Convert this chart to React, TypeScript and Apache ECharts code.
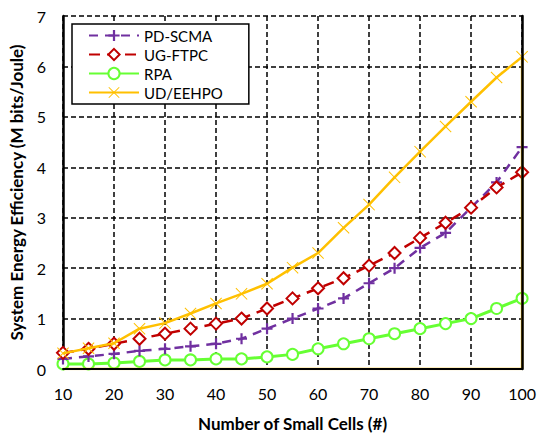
import React, { useEffect, useRef } from "react";
import * as echarts from "echarts";

const cells = [10, 15, 20, 25, 30, 35, 40, 45, 50, 55, 60, 65, 70, 75, 80, 85, 90, 95, 100];
const pdScma = [0.2, 0.25, 0.3, 0.36, 0.4, 0.45, 0.5, 0.6, 0.8, 1.0, 1.2, 1.4, 1.7, 2.0, 2.4, 2.7, 3.2, 3.7, 4.4];
const ugFtpc = [0.32, 0.4, 0.5, 0.6, 0.7, 0.8, 0.9, 1.0, 1.2, 1.4, 1.6, 1.8, 2.05, 2.3, 2.6, 2.9, 3.2, 3.6, 3.9];
const rpa = [0.1, 0.1, 0.12, 0.15, 0.18, 0.18, 0.2, 0.2, 0.24, 0.29, 0.4, 0.5, 0.6, 0.7, 0.8, 0.9, 1.0, 1.2, 1.4];
const udEehpo = [0.31, 0.41, 0.51, 0.8, 0.91, 1.1, 1.3, 1.49, 1.69, 2.01, 2.3, 2.8, 3.26, 3.8, 4.31, 4.81, 5.3, 5.78, 6.19];
// trailing points of the UD/EEHPO trace that drop back to zero along the axis
const udTailX = [100, 10];
const udTailY = [0, 0];
const xTicks = [10, 20, 30, 40, 50, 60, 70, 80, 90, 100];
const yTicks = [0, 1, 2, 3, 4, 5, 6, 7];

const FONT = "Lato, 'Open Sans', sans-serif";
const PLUS = "path://M4,0 H6 V4 H10 V6 H6 V10 H4 V6 H0 V4 H4 Z";
const CROSS =
  "path://M0,0.6 L0.6,0 L5,4.4 L9.4,0 L10,0.6 L5.6,5 L10,9.4 L9.4,10 L5,5.6 L0.6,10 L0,9.4 L4.4,5 Z";

export default function App() {
  const ref = useRef<HTMLDivElement>(null);
  useEffect(() => {
    document.body.style.margin = "0";
    if (!ref.current) return;
    const chart = echarts.init(ref.current, undefined, { renderer: "svg" });
    const pairs = (ys: number[]) => cells.map((x, i) => [x, ys[i]]);
    const udData: any[] = pairs(udEehpo);
    udTailX.forEach((x, i) => udData.push({ value: [x, udTailY[i]], symbol: "none" }));
    chart.setOption({
      animation: false,
      textStyle: { fontFamily: FONT },
      grid: { left: 63, right: 15, top: 16, bottom: 62 },
      legend: {
        left: 72,
        top: 24,
        orient: "vertical",
        backgroundColor: "#fff",
        borderColor: "#000",
        borderWidth: 1.5,
        borderRadius: 0,
        padding: [4, 26, 4, 16],
        itemGap: 4,
        itemWidth: 50,
        itemHeight: 14,
        textStyle: { fontFamily: FONT, fontSize: 15, color: "#000" },
        data: ["PD-SCMA", "UG-FTPC", "RPA", "UD/EEHPO"],
        z: 20,
      },
      xAxis: [
        {
          type: "value",
          min: 10,
          max: 100,
          interval: 10,
          name: "Number of Small Cells (#)",
          nameLocation: "middle",
          nameGap: 46,
          nameTextStyle: { fontFamily: FONT, fontSize: 17, fontWeight: "bold", color: "#000" },
          axisLine: { show: true, lineStyle: { color: "#000", width: 1 } },
          axisTick: { show: false },
          axisLabel: {
            fontSize: 16,
            color: "#000",
            margin: 16,
            customValues: xTicks,
          },
          splitLine: { show: true, lineStyle: { color: "#000", type: [5, 3], width: 1.5 } },
        },
        {
          type: "value",
          position: "top",
          min: 10,
          max: 100,
          interval: 10,
          z: 10,
          axisLine: { show: true, lineStyle: { color: "#000", width: 2 } },
          axisTick: { show: false },
          axisLabel: { show: false },
          splitLine: { show: false },
        },
      ],
      yAxis: [
        {
          type: "value",
          min: 0,
          max: 7,
          interval: 1,
          name: "System Energy Efficiency (M bits/Joule)",
          nameLocation: "middle",
          nameGap: 38,
          nameTextStyle: { fontFamily: FONT, fontSize: 17, fontWeight: "bold", color: "#000" },
          axisLine: { show: true, lineStyle: { color: "#000", width: 2.5 } },
          axisTick: { show: false },
          axisLabel: { fontSize: 16, color: "#000", margin: 17, customValues: yTicks },
          splitLine: { show: true, lineStyle: { color: "#000", type: [5, 3], width: 1.5 } },
        },
        {
          type: "value",
          position: "right",
          min: 0,
          max: 7,
          interval: 1,
          z: 10,
          axisLine: { show: true, lineStyle: { color: "#000", width: 2.5 } },
          axisTick: { show: false },
          axisLabel: { show: false },
          splitLine: { show: false },
        },
      ],
      series: [
        {
          name: "PD-SCMA",
          type: "line",
          data: pairs(pdScma),
          symbol: PLUS,
          symbolSize: 11,
          color: "#7030A0",
          lineStyle: { color: "#7030A0", width: 2.5, type: [9, 7] },
          itemStyle: { color: "#7030A0" },
          z: 3,
        },
        {
          name: "UG-FTPC",
          type: "line",
          data: pairs(ugFtpc),
          symbol: "emptyDiamond",
          symbolSize: 12,
          color: "#C00000",
          lineStyle: { color: "#C00000", width: 2.5, type: [11, 7] },
          itemStyle: { color: "#C00000", borderWidth: 2 },
          z: 4,
        },
        {
          name: "RPA",
          type: "line",
          data: pairs(rpa),
          symbol: "emptyCircle",
          symbolSize: 11,
          color: "#66FF33",
          lineStyle: { color: "#66FF33", width: 3 },
          itemStyle: { color: "#66FF33", borderWidth: 2.5 },
          z: 2,
        },
        {
          name: "UD/EEHPO",
          type: "line",
          data: udData,
          symbol: CROSS,
          symbolSize: 12,
          color: "#FFC000",
          lineStyle: { color: "#FFC000", width: 2.5 },
          itemStyle: { color: "#FFC000" },
          z: 5,
        },
      ],
    });
    return () => chart.dispose();
  }, []);
  return <div ref={ref} style={{ width: 539, height: 437 }} />;
}
